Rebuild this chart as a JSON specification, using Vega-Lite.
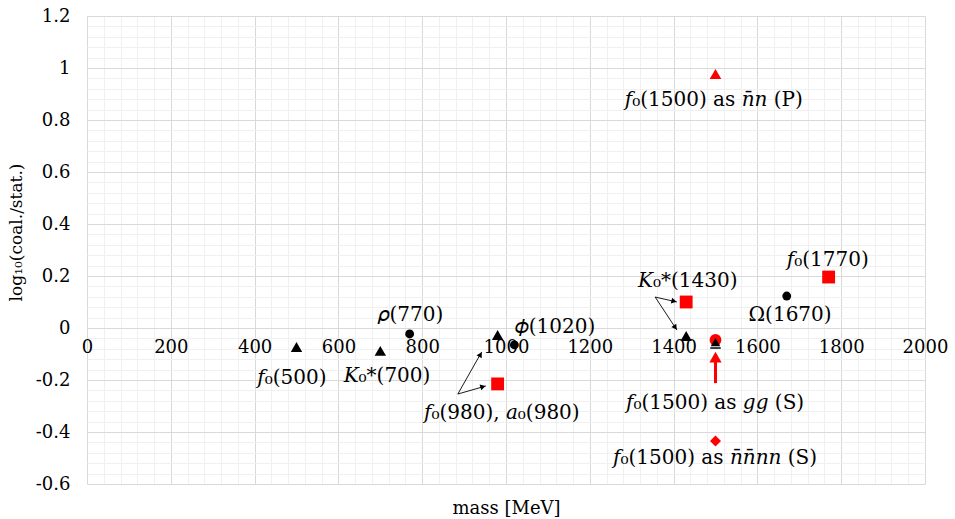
{
  "$schema": "https://vega.github.io/schema/vega-lite/v6.json",
  "width": 838,
  "height": 468,
  "autosize": {"type": "none"},
  "padding": {"left": 87, "top": 16, "right": 30, "bottom": 35},
  "background": "white",
  "config": {"view": {"stroke": null}, "font": "DejaVu Serif"},
  "datasets": {
    "points": [
      {"mass": 500, "val": -0.073, "kind": "black triangle"},
      {"mass": 700, "val": -0.088, "kind": "black triangle"},
      {"mass": 770, "val": -0.023, "kind": "black circle"},
      {"mass": 980, "val": -0.027, "kind": "black triangle"},
      {"mass": 1020, "val": -0.065, "kind": "black circle"},
      {"mass": 980, "val": -0.215, "kind": "red square"},
      {"mass": 1430, "val": -0.031, "kind": "black triangle"},
      {"mass": 1430, "val": 0.1, "kind": "red square"},
      {"mass": 1500, "val": -0.046, "kind": "red circle"},
      {"mass": 1500, "val": -0.435, "kind": "red diamond"},
      {"mass": 1500, "val": 0.977, "kind": "red triangle"},
      {"mass": 1670, "val": 0.123, "kind": "black circle"},
      {"mass": 1770, "val": 0.196, "kind": "red square"}
    ],
    "overlay": [{"mass": 1500, "val": -0.054}],
    "dash": [{"mass": 1500, "val": -0.077}],
    "arrows": [
      {"mass": 885, "val": -0.254, "mass2": 942, "val2": -0.092},
      {"mass": 885, "val": -0.254, "mass2": 952, "val2": -0.223},
      {"mass": 1356, "val": 0.119, "mass2": 1408, "val2": 0.1},
      {"mass": 1356, "val": 0.119, "mass2": 1408, "val2": -0.008}
    ],
    "heads": [
      {"id": "a", "mass": 939, "val": -0.102},
      {"id": "b", "mass": 945, "val": -0.226},
      {"id": "c", "mass": 1401, "val": 0.103},
      {"id": "d", "mass": 1404, "val": 0.002}
    ],
    "redshaft": [{"mass": 1500, "val": -0.212, "val2": -0.125}],
    "redhead": [{"mass": 1500, "val": -0.112}],
    "labels": [
      {"mass": 489, "val": -0.192, "label": "𝑓₀(500)"},
      {"mass": 716, "val": -0.185, "label": "𝐾₀*(700)"},
      {"mass": 773, "val": 0.05, "label": "𝜌(770)"},
      {"mass": 1117, "val": 0.002, "label": "𝜙(1020)"},
      {"mass": 990, "val": -0.327, "label": "𝑓₀(980), 𝑎₀(980)"},
      {"mass": 1434, "val": 0.181, "label": "𝐾₀*(1430)"},
      {"mass": 1499, "val": -0.288, "label": "𝑓₀(1500) as 𝑔𝑔 (S)"},
      {"mass": 1499, "val": -0.5, "label": "𝑓₀(1500) as 𝑛̄𝑛̄𝑛𝑛 (S)"},
      {"mass": 1496, "val": 0.877, "label": "𝑓₀(1500) as 𝑛̄𝑛 (P)"},
      {"mass": 1678, "val": 0.05, "label": "Ω(1670)"},
      {"mass": 1768, "val": 0.262, "label": "𝑓₀(1770)"}
    ]
  },
  "encoding": {
    "x": {
      "field": "mass", "type": "quantitative",
      "scale": {"domain": [0, 2000], "nice": false, "zero": false},
      "axis": {
        "orient": "bottom",
        "values": [0,40,80,120,160,200,240,280,320,360,400,440,480,520,560,600,640,680,720,760,800,840,880,920,960,1000,1040,1080,1120,1160,1200,1240,1280,1320,1360,1400,1440,1480,1520,1560,1600,1640,1680,1720,1760,1800,1840,1880,1920,1960,2000],
        "offset": -156,
        "domain": false,
        "ticks": false,
        "grid": true,
        "gridColor": {"condition": {"test": "datum.value % 200 === 0", "value": "#d9d9d9"}, "value": "#f0f0f0"},
        "gridWidth": 1,
        "format": "d",
        "labelExpr": "datum.value % 200 === 0 ? datum.label : ''",
        "labelFont": "DejaVu Serif",
        "labelFontSize": 18,
        "labelColor": "#000000",
        "labelPadding": 10,
        "labelFlush": false,
        "labelOverlap": false,
        "title": "mass [MeV]",
        "titleFont": "DejaVu Serif",
        "titleFontSize": 18,
        "titleFontWeight": "normal",
        "titleColor": "#000000",
        "titleY": 180,
        "titleBaseline": "middle"
      }
    },
    "y": {
      "field": "val", "type": "quantitative",
      "scale": {"domain": [-0.6, 1.2], "nice": false, "zero": false},
      "axis": {
        "orient": "left",
        "values": [-0.6,-0.56,-0.52,-0.48,-0.44,-0.4,-0.36,-0.32,-0.28,-0.24,-0.2,-0.16,-0.12,-0.08,-0.04,0,0.04,0.08,0.12,0.16,0.2,0.24,0.28,0.32,0.36,0.4,0.44,0.48,0.52,0.56,0.6,0.64,0.68,0.72,0.76,0.8,0.84,0.88,0.92,0.96,1,1.04,1.08,1.12,1.16,1.2],
        "domain": false,
        "ticks": false,
        "grid": true,
        "gridColor": {"condition": {"test": "abs(datum.value * 5 - round(datum.value * 5)) < 0.000001", "value": "#d9d9d9"}, "value": "#f0f0f0"},
        "gridWidth": 1,
        "labelExpr": "abs(datum.value * 5 - round(datum.value * 5)) < 0.000001 ? '' + round(datum.value * 10) / 10 : ''",
        "labelFont": "DejaVu Serif",
        "labelFontSize": 18,
        "labelColor": "#000000",
        "labelPadding": 17,
        "labelOverlap": false,
        "title": "log₁₀(coal./stat.)",
        "titleFont": "DejaVu Serif",
        "titleFontSize": 17,
        "titleFontWeight": "normal",
        "titleColor": "#000000",
        "titleX": -66,
        "titleY": 216,
        "titleAlign": "center",
        "titleBaseline": "alphabetic"
      }
    }
  },
  "layer": [
    {
      "data": {"name": "points"},
      "mark": {"type": "point", "filled": true, "opacity": 1, "strokeWidth": 0},
      "encoding": {
        "shape": {
          "field": "kind", "type": "nominal", "legend": null,
          "scale": {
            "domain": ["black triangle", "black circle", "red square", "red circle", "red diamond", "red triangle"],
            "range": ["triangle-up", "circle", "square", "circle", "diamond", "triangle-up"]
          }
        },
        "color": {
          "field": "kind", "type": "nominal", "legend": null,
          "scale": {
            "domain": ["black triangle", "black circle", "red square", "red circle", "red diamond", "red triangle"],
            "range": ["#000000", "#000000", "#ff0000", "#ff0000", "#ff0000", "#ff0000"]
          }
        },
        "size": {
          "field": "kind", "type": "nominal", "legend": null,
          "scale": {
            "type": "ordinal",
            "domain": ["black triangle", "black circle", "red square", "red circle", "red diamond", "red triangle"],
            "range": [130, 78, 165, 140, 120, 135]
          }
        }
      }
    },
    {
      "data": {"name": "overlay"},
      "mark": {"type": "point", "shape": "triangle-up", "filled": true, "size": 90, "color": "#000000", "opacity": 1, "strokeWidth": 0}
    },
    {
      "data": {"name": "dash"},
      "mark": {"type": "point", "shape": "stroke", "size": 110, "strokeWidth": 1.5, "color": "#000000", "opacity": 1}
    },
    {
      "data": {"name": "arrows"},
      "mark": {"type": "rule", "color": "#000000", "strokeWidth": 0.9},
      "encoding": {
        "x2": {"field": "mass2"},
        "y2": {"field": "val2"}
      }
    },
    {
      "data": {"name": "heads"},
      "transform": [{"filter": "datum.id === 'a'"}],
      "mark": {"type": "point", "shape": "triangle-right", "filled": true, "size": 36, "angle": 300, "color": "#000000", "opacity": 1, "strokeWidth": 0}
    },
    {
      "data": {"name": "heads"},
      "transform": [{"filter": "datum.id === 'b'"}],
      "mark": {"type": "point", "shape": "triangle-right", "filled": true, "size": 36, "angle": 344, "color": "#000000", "opacity": 1, "strokeWidth": 0}
    },
    {
      "data": {"name": "heads"},
      "transform": [{"filter": "datum.id === 'c'"}],
      "mark": {"type": "point", "shape": "triangle-right", "filled": true, "size": 36, "angle": 13, "color": "#000000", "opacity": 1, "strokeWidth": 0}
    },
    {
      "data": {"name": "heads"},
      "transform": [{"filter": "datum.id === 'd'"}],
      "mark": {"type": "point", "shape": "triangle-right", "filled": true, "size": 36, "angle": 56, "color": "#000000", "opacity": 1, "strokeWidth": 0}
    },
    {
      "data": {"name": "redshaft"},
      "mark": {"type": "rule", "color": "#ff0000", "strokeWidth": 3},
      "encoding": {
        "y2": {"field": "val2"}
      }
    },
    {
      "data": {"name": "redhead"},
      "mark": {"type": "point", "shape": "triangle-up", "filled": true, "size": 150, "color": "#ff0000", "opacity": 1, "strokeWidth": 0}
    },
    {
      "data": {"name": "labels"},
      "mark": {"type": "text", "font": "DejaVu Serif", "fontSize": 20, "color": "#000000", "align": "center", "baseline": "middle"},
      "encoding": {
        "text": {"field": "label"}
      }
    }
  ]
}
